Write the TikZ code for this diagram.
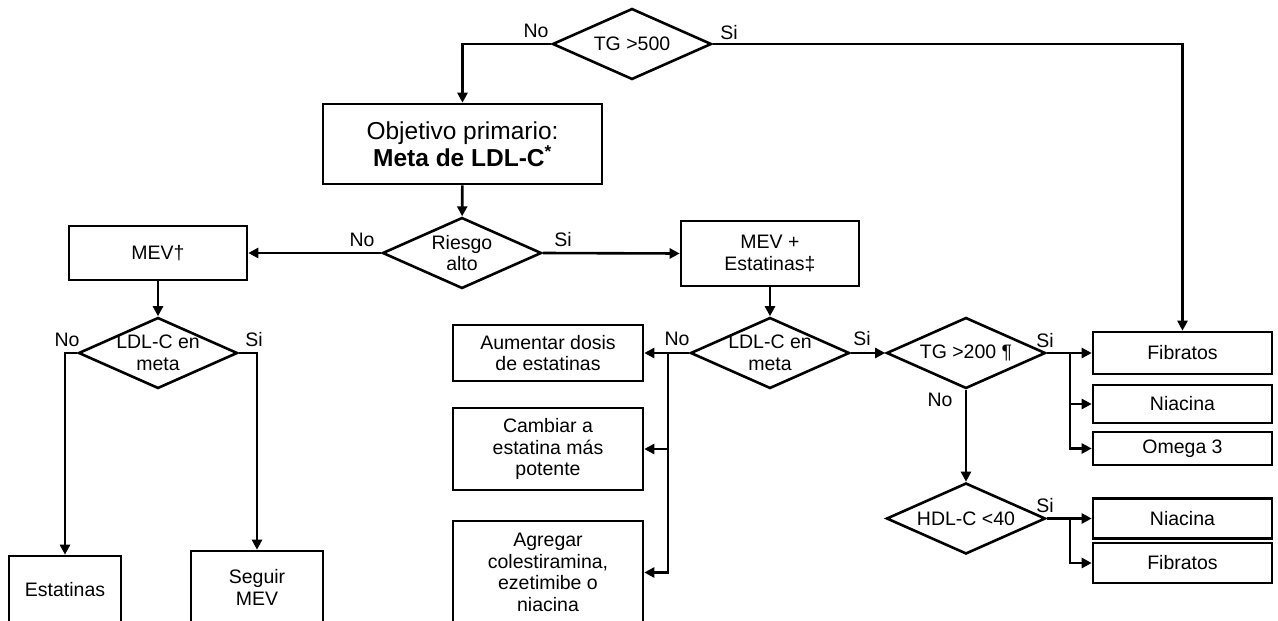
\documentclass[tikz,border=0pt]{standalone}
\usepackage{fontspec}
\setmainfont{Liberation Sans}
\usetikzlibrary{arrows.meta,shapes.geometric}

\newcommand{\boxfont}{\fontsize{19.5}{21.5}\selectfont}
\newcommand{\bigboxfont}{\fontsize{24.5}{23.5}\selectfont}

\tikzset{
    box/.style={draw, line width=2.6pt, inner sep=0pt, align=center, font=\boxfont},
    decision/.style={draw, diamond, line width=2.6pt, inner sep=0pt, minimum width=159pt, minimum height=71pt},
    dtext/.style={align=center, font=\boxfont, inner sep=0pt},
    flow/.style={line width=2.6pt, -{Triangle[length=10pt,width=10pt]}},
    ans/.style={font=\boxfont, inner sep=0pt}
}

\begin{document}
\begin{tikzpicture}[x=1pt, y=-1pt]
            \useasboundingbox (0,0) rectangle (1278,621);

            % Top decision
            \node[decision, label={[dtext]center:TG >500}] (tg500) at (632,44) {};
            \node[box, font=\bigboxfont, minimum width=279pt, minimum height=80pt] (objetivo) at (462.5,144) {Objetivo primario:\\\textbf{Meta de LDL-C\textsuperscript{*}}};
            \node[decision, label={[dtext]center:Riesgo\\alto}] (riesgo) at (462,253) {};

            % Left branch: MEV only
            \node[box, minimum width=178pt, minimum height=54pt] (mev) at (158,253) {MEV\textdagger};
            \node[decision, label={[dtext]center:LDL-C en\\meta}] (meta1) at (158,353) {};
            \node[box, minimum width=112pt, minimum height=68pt] (estatinas) at (65,590) {Estatinas};
            \node[box, minimum width=132pt, minimum height=73pt] (seguir) at (257,587.5) {Seguir\\MEV};

            % Middle branch: MEV + statins
            \node[box, minimum width=178pt, minimum height=65pt] (mevest) at (770,253.5) {MEV +\\Estatinas\textdaggerdbl};
            \node[decision, label={[dtext]center:LDL-C en\\meta}] (meta2) at (770,353) {};
            \node[box, minimum width=190pt, minimum height=56pt] (aumentar) at (548,353) {Aumentar dosis\\de estatinas};
            \node[box, minimum width=190pt, minimum height=82pt] (cambiar) at (548,449) {Cambiar a\\estatina más\\potente};
            \node[box, minimum width=190pt, minimum height=103pt] (agregar) at (548,572.5) {Agregar\\colestiramina,\\ezetimibe o\\niacina};

            % Right branch: triglycerides and HDL
            \node[decision, label={[dtext]center:TG >200 \P}] (tg200) at (966,353) {};
            \node[decision, label={[dtext]center:HDL-C <40}] (hdl) at (966,518.5) {};
            \node[box, minimum width=179pt, minimum height=42pt] (fib1) at (1182.5,353) {Fibratos};
            \node[box, minimum width=179pt, minimum height=38pt] (niacina1) at (1182.5,404) {Niacina};
            \node[box, minimum width=179pt, minimum height=33pt] (omega) at (1182.5,448.5) {Omega 3};
            \node[box, minimum width=179pt, minimum height=40pt] (niacina2) at (1182.5,518.5) {Niacina};
            \node[box, minimum width=179pt, minimum height=40pt] (fib2) at (1182.5,563) {Fibratos};

            % Branch points
            \coordinate (b1) at (668,353);
            \coordinate (b2) at (1070,353);
            \coordinate (b3) at (1070,518.5);

            % Connectors
            \draw[flow] (tg500.west) -| (objetivo.north);
            \draw[flow] (tg500.east) -| (fib1.north);
            \draw[flow] (objetivo) -- (riesgo);
            \draw[flow] (riesgo.west) -- (mev.east);
            \draw[flow] (riesgo.east) -- (mevest.west);
            \draw[flow] (mev) -- (meta1);
            \draw[flow] (meta1.west) -| (estatinas.north);
            \draw[flow] (meta1.east) -| (seguir.north);
            \draw[flow] (mevest) -- (meta2);
            \draw[flow] (meta2.west) -- (aumentar.east);
            \draw[flow] (b1) |- (cambiar.east);
            \draw[flow] (b1) |- (agregar.east);
            \draw[flow] (meta2.east) -- (tg200.west);
            \draw[flow] (tg200.east) -- (fib1.west);
            \draw[flow] (b2) |- (niacina1.west);
            \draw[flow] (b2) |- (omega.west);
            \draw[flow] (tg200) -- (hdl);
            \draw[flow] (hdl.east) -- (niacina2.west);
            \draw[flow] (b3) |- (fib2.west);

            % Answer labels
            \node[ans] (n1) at (536,31) {No};
            \node[ans] (s1) at (729,33) {Si};
            \node[ans] (n2) at (362,240) {No};
            \node[ans] (s2) at (563,240) {Si};
            \node[ans] (n3) at (67,340) {No};
            \node[ans] (s3) at (254,340) {Si};
            \node[ans] (n4) at (677,339) {No};
            \node[ans] (s4) at (862,339) {Si};
            \node[ans] (s5) at (1045,341) {Si};
            \node[ans] (n5) at (940,400) {No};
            \node[ans] (s6) at (1045,506) {Si};
\end{tikzpicture}
\end{document}
